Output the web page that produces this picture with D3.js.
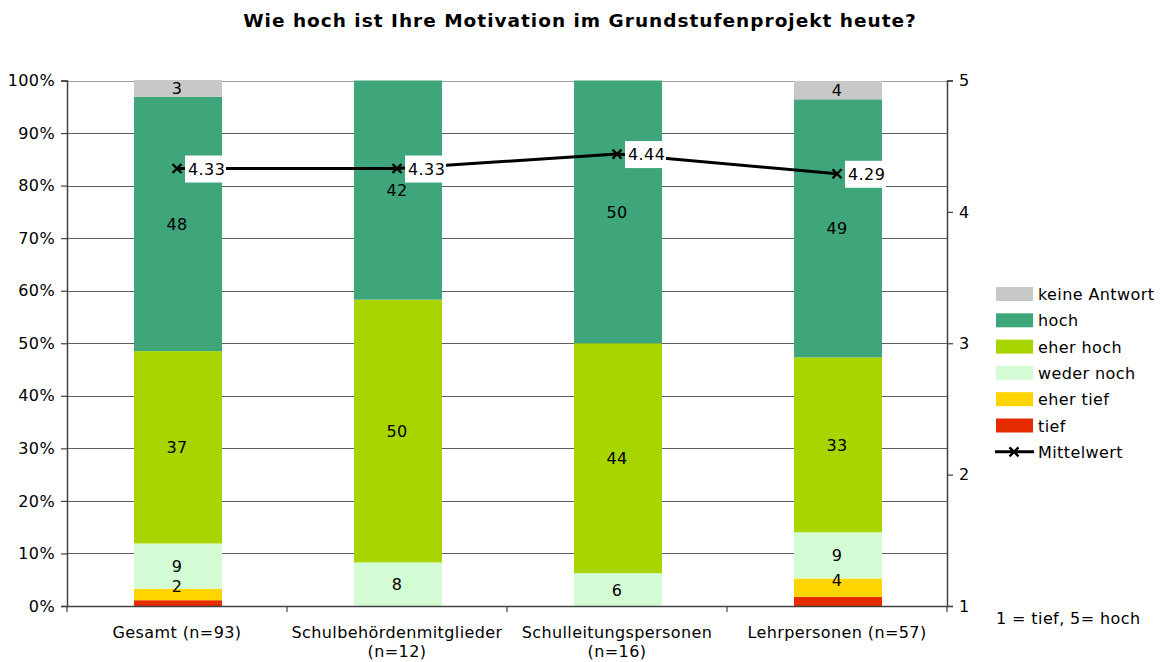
<!DOCTYPE html>
<html><head><meta charset="utf-8">
<script src="https://cdn.jsdelivr.net/npm/d3@7"></script>
<style>body{margin:0;background:#fff;} svg{display:block;font-family:"DejaVu Sans",Verdana,sans-serif;}</style>
</head><body>
<svg id="chart" width="1163" height="662"></svg>
<script>
const categories = ["Gesamt (n=93)", "Schulbehördenmitglieder (n=12)", "Schulleitungspersonen (n=16)", "Lehrpersonen (n=57)"];
const categoryLines = [["Gesamt (n=93)"], ["Schulbehördenmitglieder", "(n=12)"], ["Schulleitungspersonen", "(n=16)"], ["Lehrpersonen (n=57)"]];
const seriesNames = ["tief", "eher tief", "weder noch", "eher hoch", "hoch", "keine Antwort"];
const tief = [1.1, 0, 0, 1.75];
const eherTief = [2.2, 0, 0, 3.5];
const wederNoch = [8.6, 8.3, 6.25, 8.77];
const eherHoch = [36.6, 50, 43.75, 33.3];
const hoch = [48.4, 41.7, 50, 49.1];
const keineAntwort = [3.2, 0, 0, 3.5];
const mittelwert = [4.33, 4.33, 4.44, 4.29];
const leftTicks = [0, 10, 20, 30, 40, 50, 60, 70, 80, 90, 100];
const rightTicks = [1, 2, 3, 4, 5];
const colors = ["#e52b00", "#ffd400", "#d4fcd4", "#a8d400", "#3ea67a", "#c8c8c8"];
const showLabel = [false, true, true, true, true, true];

const FS = 16, LS = "0.4px";
const seriesValues = [tief, eherTief, wederNoch, eherHoch, hoch, keineAntwort];
const svg = d3.select("#chart");
const L = 67, R = 947, T = 80.5, B = 606;
const x = d3.scaleBand().domain(categories).range([L, R]).paddingInner(0).paddingOuter(0);
const y = d3.scaleLinear().domain([0, 100]).range([B, T]);
const y2 = d3.scaleLinear().domain([1, 5]).range([B, T]);
const barW = x.bandwidth() * 0.4;

// title
svg.append("text").attr("x", 580).attr("y", 27).attr("text-anchor", "middle")
  .attr("font-size", 18.5).attr("font-weight", "bold").attr("letter-spacing", "1px").attr("fill", "#000")
  .text("Wie hoch ist Ihre Motivation im Grundstufenprojekt heute?");

// gridlines
svg.append("g").selectAll("line").data(leftTicks.filter(d => d > 0)).join("line")
  .attr("x1", L).attr("x2", R).attr("y1", d => Math.round(y(d)) + 0.5).attr("y2", d => Math.round(y(d)) + 0.5)
  .attr("stroke", d => d === 100 ? "#a0a0a0" : "#606060").attr("stroke-width", 1.2);

// stacked bars
const stackData = categories.map((c, i) => {
  const o = {cat: c};
  seriesNames.forEach((s, k) => o[s] = seriesValues[k][i]);
  return o;
});
const stack = d3.stack().keys(seriesNames)(stackData);
const gBars = svg.append("g");
stack.forEach((layer, k) => {
  gBars.selectAll(null).data(layer).join("rect")
    .attr("x", d => x(d.data.cat) + (x.bandwidth() - barW) / 2 + 1)
    .attr("width", barW)
    .attr("y", d => y(d[1]))
    .attr("height", d => Math.max(0, y(d[0]) - y(d[1])))
    .attr("fill", colors[k]);
});
// labels (small segments: label nudged upward like the original)
stack.forEach((layer, k) => {
  if (!showLabel[k]) return;
  gBars.selectAll(null).data(layer.filter(d => d[1] - d[0] > 0)).join("text")
    .attr("x", d => x(d.data.cat) + x.bandwidth() / 2)
    .attr("y", d => (y(d[0]) + y(d[1])) / 2 + 6 - ((y(d[0]) - y(d[1])) < 20 && k < 2 ? 8 : 0))
    .attr("text-anchor", "middle").attr("font-size", FS).attr("letter-spacing", LS).attr("fill", "#000")
    .text(d => Math.round(d[1] - d[0]));
});

// axes
const axL = svg.append("g").attr("transform", `translate(${L},0)`)
  .call(d3.axisLeft(y).tickValues(leftTicks).tickFormat(d => d + "%").tickSize(6).tickPadding(6));
const axR = svg.append("g").attr("transform", `translate(${R},0)`)
  .call(d3.axisRight(y2).tickValues(rightTicks).tickFormat(d3.format("d")).tickSize(6).tickPadding(6));
const axB = svg.append("g").attr("transform", `translate(0,${B})`)
  .call(d3.axisBottom(x).tickSize(0).tickFormat(""));
[axL, axR, axB].forEach(a => {
  a.select(".domain").attr("stroke", "#404040").attr("stroke-width", 1.5);
  a.selectAll(".tick line").attr("stroke", "#404040").attr("stroke-width", 1.2);
  a.selectAll("text").attr("font-size", FS).attr("letter-spacing", LS).attr("fill", "#000").attr("font-family", "DejaVu Sans, Verdana, sans-serif");
});
axB.select(".domain").attr("d", `M${L},0.5H${R}`);
// category ticks at band edges
const edges = categories.map(c => x(c)).concat([R]);
svg.append("g").selectAll("line").data(edges).join("line")
  .attr("x1", d => d).attr("x2", d => d).attr("y1", B).attr("y2", B + 6)
  .attr("stroke", "#404040").attr("stroke-width", 1.2);
// category labels
categories.forEach((c, i) => {
  const t = svg.append("text").attr("x", x(c) + x.bandwidth() / 2).attr("y", 638)
    .attr("text-anchor", "middle").attr("font-size", FS).attr("letter-spacing", LS).attr("fill", "#000");
  categoryLines[i].forEach((ln, j) => t.append("tspan").attr("x", x(c) + x.bandwidth() / 2).attr("dy", j ? 19 : 0).text(ln));
});

// mean line
const cx = c => x(c) + x.bandwidth() / 2;
const line = d3.line().x((d, i) => cx(categories[i])).y(d => y2(d));
svg.append("path").datum(mittelwert).attr("d", line).attr("fill", "none").attr("stroke", "#000").attr("stroke-width", 3);
const gm = svg.append("g");
mittelwert.forEach((v, i) => {
  const px = cx(categories[i]), py = y2(v);
  gm.append("path").attr("d", `M${px-4.5},${py-4.5}L${px+4.5},${py+4.5}M${px-4.5},${py+4.5}L${px+4.5},${py-4.5}`)
    .attr("stroke", "#000").attr("stroke-width", 2.4);
  gm.append("rect").attr("x", px + 8).attr("y", py - 13).attr("width", 41).attr("height", 27).attr("fill", "#fff");
  gm.append("text").attr("x", px + 11).attr("y", py + 6).attr("font-size", FS).attr("letter-spacing", LS).attr("fill", "#000").text(v.toFixed(2));
});

// legend
const legendItems = seriesNames.slice().reverse();
const legendColors = colors.slice().reverse();
const lg = svg.append("g");
legendItems.forEach((s, i) => {
  const ly = 294 + i * 26.3;
  lg.append("rect").attr("x", 996).attr("y", ly - 7).attr("width", 37).attr("height", 14).attr("fill", legendColors[i]);
  lg.append("text").attr("x", 1038).attr("y", ly + 6).attr("font-size", FS).attr("letter-spacing", LS).attr("fill", "#000").text(s);
});
const mly = 294 + 6 * 26.3;
lg.append("line").attr("x1", 995).attr("x2", 1034).attr("y1", mly).attr("y2", mly).attr("stroke", "#000").attr("stroke-width", 3);
lg.append("path").attr("d", `M${1014-4.5},${mly-4.5}L${1014+4.5},${mly+4.5}M${1014-4.5},${mly+4.5}L${1014+4.5},${mly-4.5}`).attr("stroke", "#000").attr("stroke-width", 2.4);
lg.append("text").attr("x", 1038).attr("y", mly + 6).attr("font-size", FS).attr("letter-spacing", LS).attr("fill", "#000").text("Mittelwert");

svg.append("text").attr("x", 996).attr("y", 624).attr("font-size", FS).attr("letter-spacing", LS).attr("fill", "#000").text("1 = tief, 5= hoch");
</script>
</body></html>
